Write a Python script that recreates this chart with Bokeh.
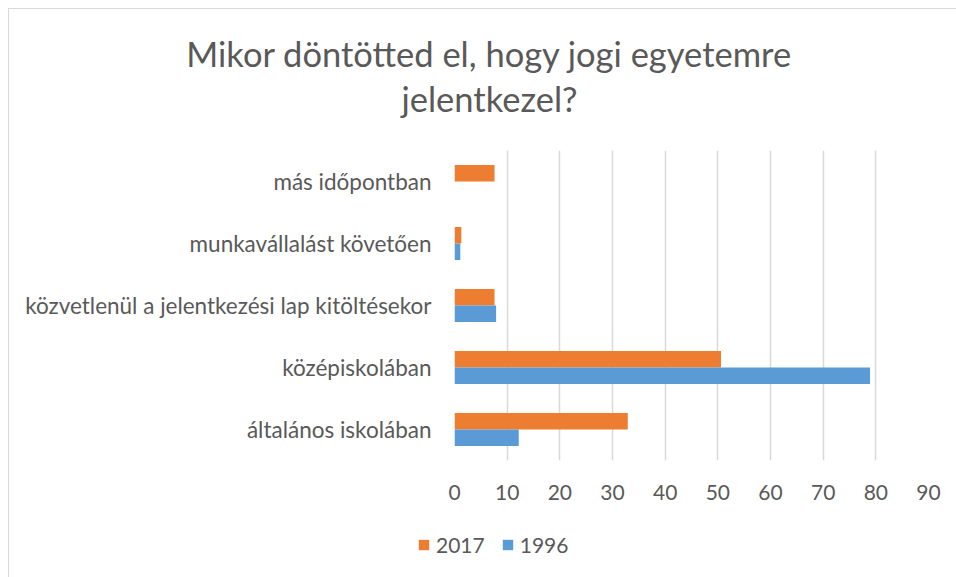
from bokeh.plotting import figure
from bokeh.layouts import column
from bokeh.models import ColumnDataSource, FactorRange, Range1d, FixedTicker, Legend, LegendItem, Label
from bokeh.transform import dodge
from bokeh.embed import file_html
from bokeh.resources import INLINE

# ---- data (bottom to top) ----
categories = [
    "általános iskolában",
    "középiskolában",
    "közvetlenül a jelentkezési lap kitöltésekor",
    "munkavállalást követően",
    "más időpontban",
]
values_2017 = [32.9, 50.6, 7.6, 1.3, 7.6]
values_1996 = [12.2, 78.9, 7.9, 1.1, 0.0]
series_names = ["2017", "1996"]
x_ticks = [0, 10, 20, 30, 40, 50, 60, 70, 80, 90]
title_lines = ["Mikor döntötted el, hogy jogi egyetemre", "jelentkezel?"]

ORANGE = "#ED7D31"
BLUE = "#5B9BD5"
TEXT = "#595959"
GRID = "#d9d9d9"
FONT = "Lato"
W = 947


def blank_fig(h):
    f = figure(width=W, height=h, x_range=Range1d(0, W), y_range=Range1d(0, h),
               x_axis_type=None, y_axis_type=None, output_backend="svg",
               toolbar_location=None, min_border=0)
    f.title = None
    f.frame_align = False
    f.outline_line_color = None
    f.xgrid.visible = False
    f.ygrid.visible = False
    return f


# ---- title strip ----
tfig = blank_fig(141)
for txt, ty in zip(title_lines, [97, 52]):
    tfig.add_layout(Label(x=480, y=ty, text=txt, text_align="center",
                          text_baseline="alphabetic", text_font=FONT,
                          text_font_size="34.5px", text_color=TEXT))

# ---- main chart ----
source = ColumnDataSource(dict(cat=categories, v2017=values_2017, v1996=values_1996))

p = figure(
    width=W, height=364,
    y_range=FactorRange(*categories),
    x_range=Range1d(0, 90),
    output_backend="svg", toolbar_location=None,
    min_border_left=445, min_border_right=28,
    min_border_top=0, min_border_bottom=54,
)
p.title = None
p.frame_align = False
p.outline_line_color = None

bar_h = 0.266
r17 = p.hbar(y=dodge("cat", bar_h / 2, range=p.y_range), right="v2017", left=0,
             height=bar_h, source=source, fill_color=ORANGE, line_color=None)
r96 = p.hbar(y=dodge("cat", -bar_h / 2, range=p.y_range), right="v1996", left=0,
             height=bar_h, source=source, fill_color=BLUE, line_color=None)

p.ygrid.grid_line_color = None
p.xgrid.grid_line_color = GRID
p.xgrid.grid_line_width = 1.5
p.xaxis.ticker = FixedTicker(ticks=x_ticks)

for ax in (p.xaxis[0], p.yaxis[0]):
    ax.axis_line_color = None
    ax.major_tick_line_color = None
    ax.minor_tick_line_color = None
    ax.major_tick_out = 0
    ax.major_tick_in = 0
    ax.major_label_text_font = FONT
    ax.major_label_text_color = TEXT
p.xaxis.major_label_text_font_size = "21px"
p.yaxis.major_label_text_font_size = "22.5px"
p.xaxis.major_label_standoff = 24
p.yaxis.major_label_standoff = 23

# ---- legend strip (legend swatches only; the proxy bars have zero length) ----
lfig = blank_fig(63)
proxy = ColumnDataSource(dict(y=[-100], right=[0]))
g17 = lfig.hbar(y="y", right="right", left=0, height=1, source=proxy,
                fill_color=ORANGE, line_color=None)
g96 = lfig.hbar(y="y", right="right", left=0, height=1, source=proxy,
                fill_color=BLUE, line_color=None)
legend = Legend(
    items=[LegendItem(label=series_names[0], renderers=[g17], index=0),
           LegendItem(label=series_names[1], renderers=[g96], index=0)],
    orientation="horizontal",
    location=(408, 20),
    glyph_width=13, glyph_height=13,
    label_standoff=6, spacing=16,
    padding=0, margin=0,
    border_line_color=None, background_fill_alpha=0,
    label_text_font=FONT, label_text_font_size="21px", label_text_color=TEXT,
)
lfig.add_layout(legend, "center")

layout = column(tfig, p, lfig, spacing=0)
layout.styles = {"margin-left": "8px", "margin-top": "8px",
                 "border-top": "1px solid #d9d9d9", "border-left": "1px solid #d9d9d9"}

open("out.html", "w").write(file_html(layout, INLINE))
